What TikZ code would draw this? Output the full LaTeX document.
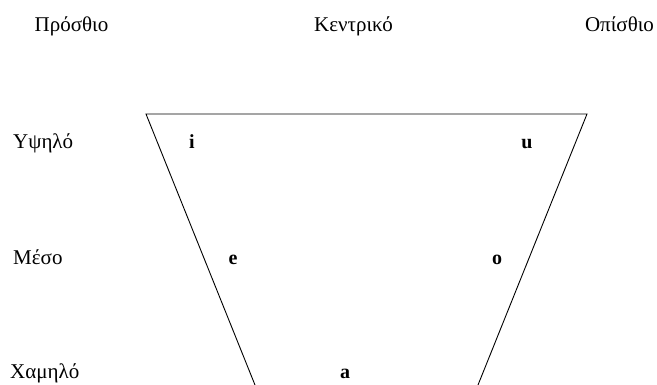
\documentclass[tikz,border=0pt]{standalone}
\usepackage{fontspec}
\setmainfont{Liberation Serif}
\usepackage{tikz}

\begin{document}
\begin{tikzpicture}[x=1pt, y=-1pt,
		axislabel/.style={font=\fontsize{21}{25}\selectfont, inner sep=0pt, anchor=base},
		rowlabel/.style={axislabel, anchor=base west},
		vowel/.style={font=\fontsize{20}{24}\selectfont\bfseries, inner sep=0pt, anchor=base}]
			
			\useasboundingbox (0,0) rectangle (657,385);
			
			% Column labels
			\node[axislabel] (front) at (71.5, 32) {Πρόσθιο};
			\node[axislabel] (central) at (353.5, 32) {Κεντρικό};
			\node[axislabel] (back) at (619.5, 32) {Οπίσθιο};
			
			% Row labels
			\node[rowlabel] (high) at (13, 149) {Υψηλό};
			\node[rowlabel] (mid) at (13, 265) {Μέσο};
			\node[rowlabel] (low) at (10, 378) {Χαμηλό};
			
			% Vowel trapezoid
			\coordinate (tl) at (146, 114);
			\coordinate (tr) at (587, 114);
			\coordinate (bl) at (255, 385);
			\coordinate (br) at (478, 385);
			\draw[line width=0.9pt] (bl) -- (tl) -- (tr) -- (br);
			
			% Vowels
			\node[vowel] (i) at (192, 149) {i};
			\node[vowel] (u) at (527, 149) {u};
			\node[vowel] (e) at (233, 265) {e};
			\node[vowel] (o) at (497, 265) {o};
			\node[vowel] (a) at (345, 378) {a};
			
		\end{tikzpicture}
\end{document}
